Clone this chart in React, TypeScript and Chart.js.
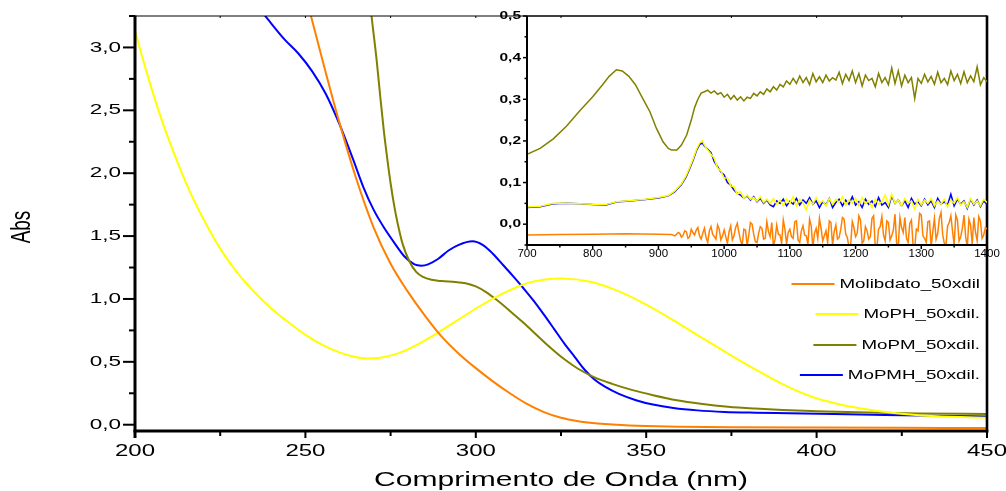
import React, { useEffect, useRef } from "react";
import { Chart, registerables } from "chart.js";
Chart.register(...registerables);

// ---------- Main plot data (wavelength nm, absorbance) ----------
const molibdatoWl = [245, 250, 255, 260, 265, 270, 275, 280, 285, 290, 295, 300, 305, 310, 315, 320, 325, 330, 335, 340, 345, 350, 360, 375, 400, 425, 450];
const molibdatoAbs = [3.95, 3.42, 2.9, 2.4, 1.95, 1.57, 1.28, 1.06, 0.87, 0.7, 0.565, 0.45, 0.345, 0.25, 0.165, 0.1, 0.055, 0.028, 0.012, 0.002, -0.006, -0.011, -0.016, -0.02, -0.023, -0.025, -0.027];

const mophWl = [200, 204, 208, 212, 216, 220, 225, 230, 235, 240, 245, 250, 255, 260, 264, 268, 272, 277, 282, 287, 294, 301, 308, 316, 325, 334, 342, 350, 358, 366, 374, 382, 390, 398, 406, 414, 422, 430, 440, 450];
const mophAbs = [3.13, 2.75, 2.41, 2.12, 1.86, 1.64, 1.4, 1.21, 1.055, 0.925, 0.815, 0.715, 0.635, 0.575, 0.543, 0.527, 0.533, 0.565, 0.625, 0.7, 0.82, 0.94, 1.045, 1.133, 1.163, 1.135, 1.06, 0.955, 0.83, 0.697, 0.566, 0.44, 0.322, 0.228, 0.166, 0.125, 0.095, 0.076, 0.063, 0.055];

const mopmWl = [268, 269.4, 270.9, 272, 273, 274, 275, 276, 277, 278.5, 280.5, 282.5, 284.5, 287, 290, 294, 297, 300, 303, 306, 310, 314, 318, 322, 326, 330, 335, 340, 346, 352, 359, 366, 374, 382, 390, 400, 415, 430, 450];
const mopmAbs = [3.6, 3.25, 2.9, 2.6, 2.34, 2.12, 1.92, 1.75, 1.61, 1.44, 1.3, 1.215, 1.175, 1.152, 1.142, 1.135, 1.125, 1.1, 1.055, 0.995, 0.905, 0.81, 0.71, 0.61, 0.52, 0.445, 0.375, 0.325, 0.275, 0.235, 0.195, 0.167, 0.143, 0.128, 0.117, 0.108, 0.097, 0.09, 0.085];

const mopmhWl = [232, 236, 240, 244, 248, 252, 256, 260, 264, 267, 270, 273, 276, 279, 282, 284, 286, 289, 292, 295, 299, 302, 305, 308, 311, 314, 317, 320, 323, 326, 329, 332, 335, 338, 342, 347, 352, 358, 365, 373, 382, 392, 405, 420, 435, 450];
const mopmhAbs = [3.5, 3.33, 3.19, 3.06, 2.95, 2.81, 2.63, 2.39, 2.11, 1.89, 1.71, 1.57, 1.45, 1.34, 1.275, 1.265, 1.275, 1.32, 1.385, 1.43, 1.458, 1.43, 1.36, 1.27, 1.18, 1.085, 0.985, 0.875, 0.76, 0.645, 0.54, 0.435, 0.355, 0.3, 0.245, 0.195, 0.16, 0.133, 0.114, 0.102, 0.096, 0.092, 0.086, 0.078, 0.071, 0.065];

// ---------- Inset data (700-1400 nm) ----------
const insetGrid = [925, 930, 935, 940, 945, 950, 955, 960, 965, 970, 975, 980, 985, 990, 995, 1000, 1005, 1010, 1015, 1020, 1025, 1030, 1035, 1040, 1045, 1050, 1055, 1060, 1065, 1070, 1075, 1080, 1085, 1090, 1095, 1100, 1105, 1110, 1115, 1120, 1125, 1130, 1135, 1140, 1145, 1150, 1155, 1160, 1165, 1170, 1175, 1180, 1185, 1190, 1195, 1200, 1205, 1210, 1215, 1220, 1225, 1230, 1235, 1240, 1245, 1250, 1255, 1260, 1265, 1270, 1275, 1280, 1285, 1290, 1295, 1300, 1305, 1310, 1315, 1320, 1325, 1330, 1335, 1340, 1345, 1350, 1355, 1360, 1365, 1370, 1375, 1380, 1385, 1390, 1395, 1400];
const insetGridMid = [927.5, 932.5, 937.5, 942.5, 947.5, 952.5, 957.5, 962.5, 967.5, 972.5, 977.5, 982.5, 987.5, 992.5, 997.5, 1002.5, 1007.5, 1012.5, 1017.5, 1022.5, 1027.5, 1032.5, 1037.5, 1042.5, 1047.5, 1052.5, 1057.5, 1062.5, 1067.5, 1072.5, 1077.5, 1082.5, 1087.5, 1092.5, 1097.5, 1102.5, 1107.5, 1112.5, 1117.5, 1122.5, 1127.5, 1132.5, 1137.5, 1142.5, 1147.5, 1152.5, 1157.5, 1162.5, 1167.5, 1172.5, 1177.5, 1182.5, 1187.5, 1192.5, 1197.5, 1202.5, 1207.5, 1212.5, 1217.5, 1222.5, 1227.5, 1232.5, 1237.5, 1242.5, 1247.5, 1252.5, 1257.5, 1262.5, 1267.5, 1272.5, 1277.5, 1282.5, 1287.5, 1292.5, 1297.5, 1302.5, 1307.5, 1312.5, 1317.5, 1322.5, 1327.5, 1332.5, 1337.5, 1342.5, 1347.5, 1352.5, 1357.5, 1362.5, 1367.5, 1372.5, 1377.5, 1382.5, 1387.5, 1392.5, 1397.5];

const inMolibdatoWl = [700, 750, 800, 850, 900, 920];
const inMolibdatoAbs = [-0.026, -0.025, -0.024, -0.023, -0.024, -0.025];
const inMolibdatoNoise = [-0.028, -0.02, -0.031, -0.016, -0.034, -0.012, -0.026, -0.008, -0.036, -0.01, -0.044, -0.006, -0.03, -0.002, -0.038, -0.014, -0.046, -0.004, -0.028, 0.002, -0.04, -0.012, -0.052, 0.004, -0.024, -0.044, -0.006, -0.036, 0.006, -0.03, -0.054, -0.002, -0.026, 0.01, -0.048, -0.012, -0.034, 0.008, -0.044, -0.004, -0.028, 0.012, -0.056, -0.01, 0.014, -0.04, -0.016, 0.008, -0.05, -0.002, -0.032, 0.016, -0.024, -0.056, 0.006, -0.03, 0.02, -0.046, -0.006, -0.036, 0.014, -0.056, -0.012, 0.018, -0.04, 0.004, -0.028, 0.024, -0.052, -0.008, 0.016, -0.044, 0.01, -0.058, -0.016, 0.022, -0.034, 0.006, -0.054, 0.014, -0.022, 0.028, -0.046, -0.004, 0.02, -0.05, 0.01, -0.03, 0.022, -0.056, -0.002, 0.016, -0.04, 0.008, -0.026, -0.012];
const inMolibdatoNoiseMid = [-0.024, -0.022, -0.027, -0.018, -0.03, -0.02, -0.014, -0.028, -0.022, -0.032, -0.016, -0.024, -0.036, -0.012, -0.028, -0.03, -0.018, -0.038, -0.008, -0.02, -0.05, -0.014, -0.026, 0.0, -0.042, -0.022, -0.01, -0.034, -0.018, 0.004, -0.036, -0.024, -0.046, -0.012, -0.02, -0.03, 0.006, -0.038, -0.016, -0.026, -0.048, -0.004, -0.022, -0.034, -0.01, -0.028, -0.044, 0.004, -0.018, -0.036, -0.012, 0.012, -0.032, -0.05, -0.008, -0.022, 0.01, -0.04, -0.016, -0.03, 0.02, -0.054, -0.006, -0.026, 0.008, -0.038, -0.014, -0.046, 0.016, -0.02, -0.034, 0.002, -0.05, -0.012, 0.026, -0.028, -0.044, 0.008, -0.018, -0.036, 0.014, -0.024, -0.052, 0.004, -0.016, 0.022, -0.04, -0.01, -0.03, 0.012, -0.048, -0.02, 0.018, -0.034, -0.008];

const inMophWl = [700, 720, 740, 760, 780, 800, 820, 836, 860, 880, 900, 915, 925, 935, 942, 948, 953, 958, 963, 967];
const inMophAbs = [0.041, 0.043, 0.05, 0.05, 0.049, 0.048, 0.047, 0.054, 0.057, 0.06, 0.064, 0.069, 0.08, 0.097, 0.116, 0.138, 0.158, 0.18, 0.196, 0.2];
const inMophNoise = [0.19, 0.178, 0.168, 0.158, 0.135, 0.128, 0.11, 0.112, 0.092, 0.09, 0.072, 0.078, 0.062, 0.07, 0.06, 0.064, 0.055, 0.066, 0.052, 0.06, 0.05, 0.062, 0.048, 0.058, 0.044, 0.06, 0.05, 0.066, 0.044, 0.06, 0.052, 0.034, 0.058, 0.048, 0.064, 0.05, 0.056, 0.044, 0.062, 0.048, 0.06, 0.052, 0.066, 0.046, 0.058, 0.05, 0.062, 0.044, 0.064, 0.05, 0.056, 0.04, 0.06, 0.048, 0.054, 0.07, 0.046, 0.072, 0.05, 0.058, 0.044, 0.062, 0.05, 0.056, 0.036, 0.06, 0.046, 0.058, 0.05, 0.062, 0.044, 0.056, 0.048, 0.06, 0.042, 0.058, 0.05, 0.064, 0.046, 0.054, 0.04, 0.062, 0.048, 0.056, 0.044, 0.06, 0.052];

const inMopmWl = [700, 720, 740, 760, 780, 800, 815, 825, 836, 845, 855, 865, 875, 887, 897, 907, 915, 920, 928, 935, 943, 950, 955, 960, 965, 970, 975, 980, 985, 990, 995];
const inMopmAbs = [0.168, 0.182, 0.205, 0.235, 0.272, 0.306, 0.335, 0.355, 0.371, 0.368, 0.355, 0.335, 0.305, 0.27, 0.23, 0.198, 0.182, 0.178, 0.178, 0.19, 0.214, 0.25, 0.28, 0.3, 0.315, 0.318, 0.322, 0.315, 0.32, 0.312, 0.316];
const inMopmNoise = [0.305, 0.312, 0.3, 0.309, 0.298, 0.306, 0.296, 0.305, 0.302, 0.314, 0.308, 0.318, 0.312, 0.325, 0.318, 0.33, 0.322, 0.336, 0.33, 0.344, 0.336, 0.35, 0.338, 0.356, 0.34, 0.352, 0.335, 0.362, 0.342, 0.354, 0.34, 0.358, 0.344, 0.352, 0.346, 0.365, 0.338, 0.36, 0.345, 0.368, 0.34, 0.362, 0.332, 0.358, 0.345, 0.35, 0.33, 0.362, 0.34, 0.352, 0.335, 0.375, 0.338, 0.368, 0.332, 0.358, 0.34, 0.352, 0.302, 0.35, 0.338, 0.36, 0.342, 0.355, 0.336, 0.365, 0.34, 0.35, 0.335, 0.368, 0.345, 0.36, 0.338, 0.366, 0.34, 0.356, 0.342, 0.378, 0.335, 0.352, 0.342];

const inMopmhWl = [700, 720, 740, 760, 780, 800, 820, 836, 860, 880, 900, 915, 925, 935, 942, 948, 953, 958, 963, 967];
const inMopmhAbs = [0.04, 0.042, 0.049, 0.05, 0.049, 0.047, 0.046, 0.053, 0.056, 0.059, 0.063, 0.068, 0.078, 0.095, 0.113, 0.135, 0.155, 0.177, 0.192, 0.195];
const inMopmhNoise = [0.188, 0.18, 0.172, 0.15, 0.138, 0.125, 0.118, 0.1, 0.094, 0.082, 0.074, 0.07, 0.062, 0.068, 0.058, 0.066, 0.054, 0.062, 0.05, 0.058, 0.046, 0.042, 0.056, 0.05, 0.06, 0.044, 0.055, 0.048, 0.062, 0.046, 0.058, 0.05, 0.064, 0.048, 0.056, 0.04, 0.054, 0.046, 0.062, 0.04, 0.052, 0.06, 0.044, 0.058, 0.048, 0.066, 0.046, 0.054, 0.04, 0.06, 0.048, 0.056, 0.042, 0.064, 0.046, 0.052, 0.04, 0.068, 0.05, 0.058, 0.044, 0.056, 0.04, 0.062, 0.048, 0.054, 0.044, 0.06, 0.046, 0.056, 0.04, 0.062, 0.048, 0.054, 0.046, 0.072, 0.044, 0.06, 0.048, 0.056, 0.038, 0.06, 0.046, 0.058, 0.042, 0.056, 0.048];

// ---------- Axes / labels ----------
const mainXTicks = [200, 250, 300, 350, 400, 450];
const mainXMinor = [225, 275, 325, 375, 425];
const mainYTicks = [0, 0.5, 1, 1.5, 2, 2.5, 3];
const mainYMinor = [0.25, 0.75, 1.25, 1.75, 2.25, 2.75, 3.25];
const insetXTicks = [700, 800, 900, 1000, 1100, 1200, 1300, 1400];
const insetXMinor = [750, 850, 950, 1050, 1150, 1250, 1350];
const insetYTicks = [0, 0.1, 0.2, 0.3, 0.4, 0.5];
const insetYMinor = [-0.05, 0.05, 0.15, 0.25, 0.35, 0.45];

const seriesNames = ["Molibdato_50xdil", "MoPH_50xdil.", "MoPM_50xdil.", "MoPMH_50xdil."];
const seriesColors = ["#FF8000", "#FFFF00", "#808000", "#0000FF"];
const xTitle = "Comprimento de Onda (nm)";
const yTitle = "Abs";

const FONT = "'Liberation Sans', Arial, sans-serif";

type Pt = { x: number; y: number };
function zip(wl: number[], v: number[]) {
  const n = Math.min(wl.length, v.length);
  const out: Pt[] = [];
  for (let i = 0; i < n; i++) out.push({ x: wl[i], y: v[i] });
  return out;
}
function withNoise(wl: number[], v: number[], start: number, noise: number[]) {
  const g = insetGrid.slice(insetGrid.indexOf(start));
  return zip(wl.concat(g), v.concat(noise.slice(0, g.length)));
}
function mergePts(a: Pt[], b: Pt[]) {
  return a.concat(b).sort((p, q) => p.x - q.x);
}
const fmtComma = (v: number) => v.toFixed(1).replace(".", ",");

function sText(ctx: CanvasRenderingContext2D, text: string, x: number, y: number, font: string, sx: number, align: CanvasTextAlign) {
  ctx.save();
  ctx.translate(x, y);
  ctx.scale(sx, 1);
  ctx.font = font;
  ctx.textAlign = align;
  ctx.textBaseline = "middle";
  ctx.fillStyle = "#000";
  ctx.fillText(text, 0, 0);
  ctx.restore();
}
function seg(ctx: CanvasRenderingContext2D, x1: number, y1: number, x2: number, y2: number, w: number, color = "#000") {
  ctx.beginPath();
  ctx.lineWidth = w;
  ctx.strokeStyle = color;
  ctx.moveTo(x1, y1);
  ctx.lineTo(x2, y2);
  ctx.stroke();
}

const mainDecor = {
  id: "mainDecor",
  afterDraw(chart: any) {
    const { ctx, chartArea: a, scales } = chart;
    const x = scales.x, y = scales.y;
    ctx.save();
    ctx.lineCap = "butt";
    seg(ctx, a.left, a.top, a.right, a.top, 1.2);
    seg(ctx, a.right, a.top - 0.5, a.right, a.bottom + 1.5, 2.6);
    seg(ctx, a.left - 1.5, a.bottom, a.right + 1.3, a.bottom, 3);
    seg(ctx, a.left, a.top - 0.5, a.left, a.bottom + 7, 3);
    for (const t of mainYTicks) {
      const py = y.getPixelForValue(t);
      seg(ctx, a.left - 12, py, a.left, py, 2);
      sText(ctx, fmtComma(t), a.left - 14, py, `15px ${FONT}`, 1.5, "right");
    }
    for (const t of mainYMinor) {
      const py = y.getPixelForValue(t);
      seg(ctx, a.left - 6, py, a.left, py, 2);
    }
    for (const t of mainXTicks) {
      const px = x.getPixelForValue(t);
      seg(ctx, px, a.bottom, px, a.bottom + 7, 2);
      sText(ctx, String(t), px, a.bottom + 21, `16px ${FONT}`, 1.5, "center");
    }
    for (const t of mainXMinor) {
      const px = x.getPixelForValue(t);
      seg(ctx, px, a.bottom, px, a.bottom + 5, 2);
    }
    for (const t of mainXMinor.concat(mainXTicks)) {
      const px = x.getPixelForValue(t);
      if (px > a.left + 2 && px < a.right - 2) seg(ctx, px, a.top, px, a.top + 2, 1);
    }
    sText(ctx, xTitle, (a.left + a.right) / 2, 480, `21px ${FONT}`, 1.43, "center");
    ctx.save();
    ctx.translate(22, 227);
    ctx.scale(1.5, 1);
    ctx.rotate(-Math.PI / 2);
    ctx.font = `19px ${FONT}`;
    ctx.textAlign = "center";
    ctx.textBaseline = "middle";
    ctx.fillStyle = "#000";
    ctx.fillText(yTitle, 0, 0);
    ctx.restore();
    const legY = [284, 314, 345, 375];
    const right = 980;
    for (let i = 0; i < seriesNames.length; i++) {
      ctx.save();
      ctx.font = `13px ${FONT}`;
      const w = ctx.measureText(seriesNames[i]).width * 1.44;
      ctx.restore();
      sText(ctx, seriesNames[i], right, legY[i], `13px ${FONT}`, 1.44, "right");
      const lx2 = right - w - 5;
      seg(ctx, lx2 - 43, legY[i], lx2, legY[i], 2, seriesColors[i]);
    }
    ctx.restore();
  },
};

const insetDecor = {
  id: "insetDecor",
  afterDraw(chart: any) {
    const { ctx, chartArea: a, scales } = chart;
    const x = scales.x, y = scales.y;
    ctx.save();
    seg(ctx, a.left, a.top, a.right, a.top, 1);
    seg(ctx, a.left - 1, a.bottom, a.right, a.bottom, 2);
    seg(ctx, a.left, a.top, a.left, a.bottom + 1, 2);
    for (const t of insetYTicks) {
      const py = y.getPixelForValue(t);
      seg(ctx, a.left - 4, py, a.left, py, 1.5);
      sText(ctx, fmtComma(t), a.left - 6, py + 0.5, `bold 10px ${FONT}`, 1.55, "right");
    }
    for (const t of insetYMinor) {
      const py = y.getPixelForValue(t);
      seg(ctx, a.left - 2.5, py, a.left, py, 1.5);
    }
    for (const t of insetXTicks) {
      const px = x.getPixelForValue(t);
      seg(ctx, px, a.bottom, px, a.bottom + 4, 1.5);
      sText(ctx, String(t), px, a.bottom + 9, `10px ${FONT}`, 1.15, "center");
    }
    for (const t of insetXMinor) {
      const px = x.getPixelForValue(t);
      seg(ctx, px, a.bottom, px, a.bottom + 2.5, 1.5);
    }
    ctx.restore();
  },
};

function baseOptions(xmin: number, xmax: number, ymin: number, ymax: number, padding: any) {
  return {
    animation: false as const,
    responsive: false,
    events: [] as any[],
    layout: { padding },
    elements: { point: { radius: 0 } },
    scales: {
      x: { type: "linear" as const, min: xmin, max: xmax, display: false },
      y: { type: "linear" as const, min: ymin, max: ymax, display: false },
    },
    plugins: { legend: { display: false }, tooltip: { enabled: false } },
  };
}

export default function App() {
  const mainRef = useRef<HTMLCanvasElement>(null);
  const insetRef = useRef<HTMLCanvasElement>(null);

  useEffect(() => {
    const mainData = [
      zip(molibdatoWl, molibdatoAbs),
      zip(mophWl, mophAbs),
      zip(mopmWl, mopmAbs),
      zip(mopmhWl, mopmhAbs),
    ];
    const main = new Chart(mainRef.current!, {
      type: "line",
      data: {
        datasets: mainData.map((d, i) => ({
          label: seriesNames[i],
          data: d,
          borderColor: seriesColors[i],
          borderWidth: 2,
          pointRadius: 0,
          fill: false,
          cubicInterpolationMode: "monotone" as const,
        })),
      },
      options: baseOptions(200, 450, -0.05, 3.25, { left: 135, right: 19, top: 16, bottom: 60 }) as any,
      plugins: [mainDecor],
    });

    const insetData = [
      mergePts(withNoise(inMolibdatoWl, inMolibdatoAbs, 925, inMolibdatoNoise), zip(insetGridMid, inMolibdatoNoiseMid)),
      withNoise(inMophWl, inMophAbs, 970, inMophNoise),
      withNoise(inMopmWl, inMopmAbs, 1000, inMopmNoise),
      withNoise(inMopmhWl, inMopmhAbs, 970, inMopmhNoise),
    ];
    const insetOrder = [3, 0, 2, 1];
    const inset = new Chart(insetRef.current!, {
      type: "line",
      data: {
        datasets: insetData.map((d, i) => ({
          label: seriesNames[i],
          data: d,
          borderColor: seriesColors[i],
          borderWidth: 1.5,
          pointRadius: 0,
          fill: false,
          order: insetOrder[i],
          tension: 0,
        })),
      },
      options: baseOptions(700, 1400, -0.05, 0.5, { left: 47, right: 19, top: 16, bottom: 25 }) as any,
      plugins: [insetDecor],
    });
    return () => {
      main.destroy();
      inset.destroy();
    };
  }, []);

  return (
    <div style={{ position: "fixed", left: 0, top: 0, width: 1006, height: 491, background: "#fff" }}>
      <canvas ref={mainRef} width={1006} height={491} style={{ position: "absolute", left: 0, top: 0, width: 1006, height: 491 }} />
      <canvas ref={insetRef} width={526} height={270} style={{ position: "absolute", left: 480, top: 0, width: 526, height: 270, pointerEvents: "none" }} />
    </div>
  );
}
